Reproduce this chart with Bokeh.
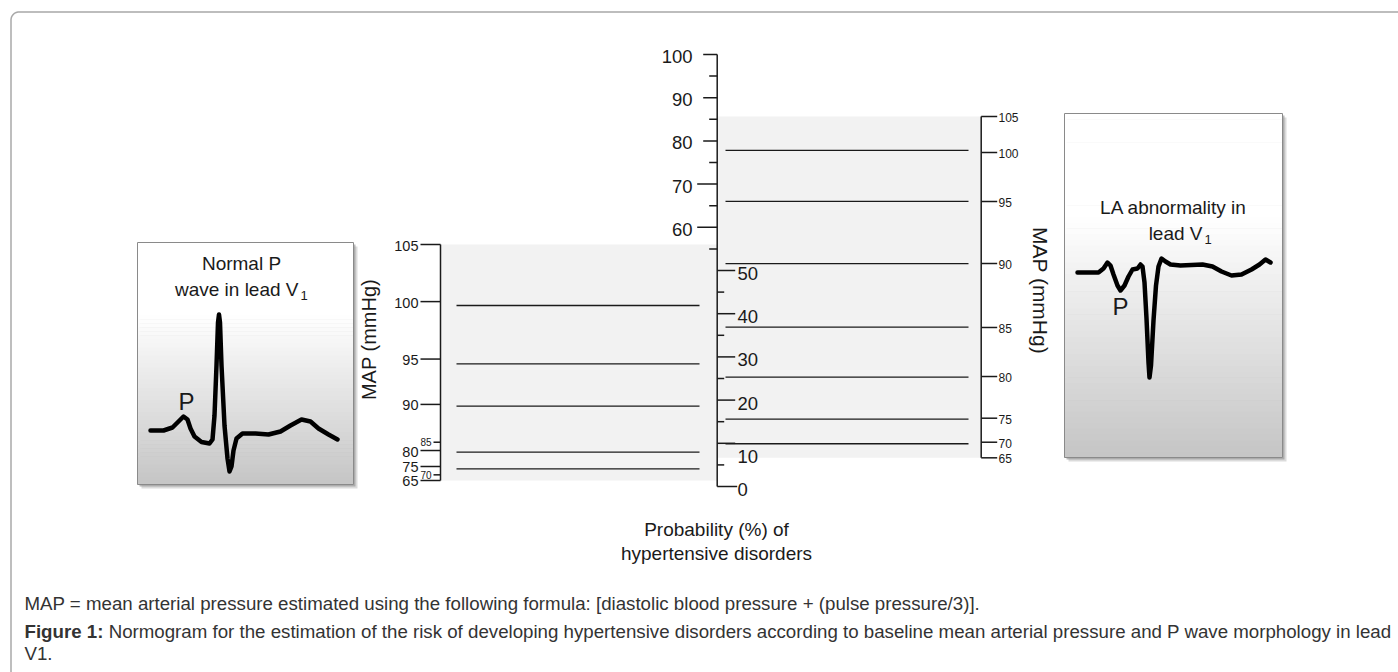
import numpy as np
from bokeh.plotting import figure
from bokeh.models import Range1d
from bokeh.embed import file_html
from bokeh.resources import INLINE
from bokeh.core.properties import value

# ---------------- data ----------------
# central probability scale (%)
prob_major = [0, 10, 20, 30, 40, 50, 60, 70, 80, 90, 100]
prob_minor = [5, 15, 25, 35, 45, 55, 65, 75, 85, 95]

# MAP scales: tick values and their position read on the probability scale (%)
map_ticks = [105, 100, 95, 90, 85, 80, 75, 70, 65]
map_left_pos = [56.0, 42.8, 29.5, 19.0, 10.25, 8.33, 4.63, 2.7, 1.39]
map_right_pos = [85.65, 77.31, 65.97, 51.62, 36.81, 25.46, 15.81, 10.25, 6.64]
map_left_small = [85, 70]

# risk lines: probability (%) for each MAP
normal_map = [100, 95, 90, 80, 75]
normal_prob = [41.9, 28.4, 18.6, 7.96, 4.1]
la_map = [100, 95, 90, 85, 80, 75, 70]
la_prob = [77.8, 66.0, 51.6, 36.9, 25.3, 15.6, 9.9]

# ECG sketches (shape, relative to their box's top-left corner, px)
ecg_normal_dx = [13, 26, 35, 41, 46, 50, 53, 57, 64, 72, 75, 77, 79, 80.5, 81.5, 82.5, 84, 87, 90, 92,
                 94, 96, 99, 105, 118, 131, 143, 153, 164, 173, 181, 191, 200]
ecg_normal_dy = [188, 188, 185, 179, 174, 177, 186, 194, 199.5, 201, 197, 173, 123, 80, 72, 80, 123, 183, 216, 229,
                 224, 208, 196, 191, 191, 192, 189, 183, 177, 179, 186, 192, 197]
ecg_la_dx = [13, 34, 39, 43, 46, 49, 53, 56, 60, 64, 68, 73, 76, 78, 80, 82, 84, 85, 86.5, 89, 91.5, 94, 97,
             101, 106, 116, 138, 148, 157, 167, 177, 187, 195, 201, 206]
ecg_la_dy = [159, 159, 155, 149, 152, 161, 172, 177, 172, 163, 156, 155, 151, 153, 169, 205, 249, 264, 252, 207,
             172, 153, 145, 148, 151, 152, 151, 153, 158, 162, 161, 156, 151, 146, 149]

# ---------------- layout ----------------
W, H = 1398, 672
PAGE = 0
ZERO_Y = 486.0      # page y of 0 %
PX_PER = 4.32       # px per percentage point
FONT = value("Liberation Sans")
INK = "#1a1a1a"

AX_X = 716.7
LAX_X = 440.0
RAX_X = 980.7

p = figure(width=W, height=H, output_backend="svg", toolbar_location=None,
           x_range=Range1d(PAGE, PAGE + W),
           y_range=Range1d((ZERO_Y - (PAGE + H)) / PX_PER, (ZERO_Y - PAGE) / PX_PER),
           x_axis_location=None, y_axis_location=None, min_border=0,
           outline_line_color=None, background_fill_color="white", border_fill_color="white")
p.extra_y_ranges = {"px": Range1d(PAGE + H, PAGE)}
p.grid.visible = False


def txt(x, y, t, size, align="left", baseline="middle", color=INK, angle=0, style="normal",
        px=True, y_offset=0):
    kw = dict(y_range_name="px") if px else {}
    ys = y if isinstance(y, list) else [y]
    n = len(ys)
    xs = x if isinstance(x, list) else [x] * n
    ts = t if isinstance(t, list) else [t] * n
    p.text(x=xs, y=ys, text=ts,
           text_font=FONT, text_font_size=size, text_align=align, text_baseline=baseline,
           text_color=color, angle=angle, text_font_style=style, y_offset=y_offset, **kw)


# outer frame with rounded corner
r = 8
ang = np.linspace(np.pi, 1.5 * np.pi, 14)
fx = [10.5] + list(10.5 + r + r * np.cos(ang)) + [1405]
fy = [700] + list(11.5 + r + r * np.sin(ang)) + [11.5]
p.line(fx, fy, line_color="#a8a8a8", line_width=1.5, y_range_name="px")

# grey panels
p.quad(left=[LAX_X], right=[AX_X], bottom=[min(map_left_pos)], top=[max(map_left_pos)],
       fill_color="#f2f2f2", line_color=None)
p.quad(left=[AX_X], right=[RAX_X], bottom=[min(map_right_pos)], top=[max(map_right_pos)],
       fill_color="#f2f2f2", line_color=None)

# risk lines
p.segment(x0=[456] * len(normal_prob), x1=[699] * len(normal_prob), y0=normal_prob, y1=normal_prob,
          line_color=INK, line_width=1.3)
p.segment(x0=[725] * len(la_prob), x1=[968] * len(la_prob), y0=la_prob, y1=la_prob,
          line_color=INK, line_width=1.3)

# ---- central probability axis ----
p.segment(x0=[AX_X], x1=[AX_X], y0=[min(prob_major)], y1=[max(prob_major)], line_color=INK, line_width=1.5)
up = [v for v in prob_major if v >= 60]
lo = [v for v in prob_major if v <= 50]
p.segment(x0=[AX_X - (14 if v >= 80 else 20) for v in up], x1=[AX_X] * len(up), y0=up, y1=up,
          line_color=INK, line_width=1.5)
p.segment(x0=[AX_X] * len(lo), x1=[AX_X + (20 if v == 0 else 18) for v in lo], y0=lo, y1=lo,
          line_color=INK, line_width=1.5)
mu = [v for v in prob_minor if v >= 55]
ml = [v for v in prob_minor if v < 55]
p.segment(x0=[AX_X - 8] * len(mu), x1=[AX_X] * len(mu), y0=mu, y1=mu, line_color=INK, line_width=1.5)
p.segment(x0=[AX_X] * len(ml), x1=[AX_X + 7] * len(ml), y0=ml, y1=ml, line_color=INK, line_width=1.5)
for v in up:
    txt(692, v, str(v), "18.5px", align="right", px=False, y_offset=2)
for v in lo:
    txt(737, v, str(v), "18.5px", align="left", px=False, y_offset=13 if v == 10 else 3)

# ---- left MAP axis ----
p.segment(x0=[LAX_X], x1=[LAX_X], y0=[min(map_left_pos)], y1=[max(map_left_pos)], line_color=INK, line_width=1.5)
for v, pos in zip(map_ticks, map_left_pos):
    small = v in map_left_small
    p.segment(x0=[LAX_X - (7 if small else 20)], x1=[LAX_X], y0=[pos], y1=[pos], line_color=INK, line_width=1.5)
    if small:
        txt(431, pos, str(v), "10px", align="right", px=False)
    else:
        txt(418, pos, str(v), "14.5px", align="right", px=False, y_offset=1)

# ---- right MAP axis ----
p.segment(x0=[RAX_X], x1=[RAX_X], y0=[min(map_right_pos)], y1=[max(map_right_pos)], line_color=INK, line_width=1.5)
p.segment(x0=[RAX_X] * len(map_ticks), x1=[RAX_X + 16] * len(map_ticks), y0=map_right_pos, y1=map_right_pos,
          line_color=INK, line_width=1.5)
txt(998, list(map_right_pos), [str(v) for v in map_ticks], "12px", align="left", px=False, y_offset=1)

# axis titles
txt(368, 339, "MAP (mmHg)", "20px", align="center", angle=np.pi / 2)
txt(1040, 290, "MAP (mmHg)", "21px", align="center", angle=-np.pi / 2)
txt(716, 529, "Probability (%) of", "19px", align="center")
txt(716, 553, "hypertensive disorders", "19px", align="center")


# ---- ECG boxes ----
def grad_box(left, top, right, bottom):
    n = 60
    edges = np.linspace(top, bottom, n + 1)
    cols = []
    for i in range(n):
        t = (i + 0.5) / n
        g = 255 if t < 0.3 else int(round(255 - 58 * ((t - 0.3) / 0.7)))
        cols.append("#%02x%02x%02x" % (g, g, g))
    p.quad(left=[left + 4], right=[right + 4], top=[top + 4], bottom=[bottom + 4],
           fill_color="#b0b0b0", fill_alpha=0.45, line_color=None, y_range_name="px")
    p.quad(left=[left + 2], right=[right + 2], top=[top + 2], bottom=[bottom + 2],
           fill_color="#8c8c8c", fill_alpha=0.6, line_color=None, y_range_name="px")
    p.quad(left=[left] * n, right=[right] * n, top=list(edges[:-1]), bottom=list(edges[1:] + 0.6),
           fill_color=cols, line_color=None, y_range_name="px")
    p.quad(left=[left], right=[right], top=[top], bottom=[bottom], fill_color=None,
           line_color="#8a8a8a", line_width=1, y_range_name="px")


NB = (137, 242, 353, 484)
LB = (1064, 113, 1282, 457)
grad_box(*NB)
grad_box(*LB)

p.line([NB[0] + v for v in ecg_normal_dx], [NB[1] + v for v in ecg_normal_dy], line_color="black",
       line_width=4.5, line_join="round", line_cap="round", y_range_name="px")
p.line([LB[0] + v for v in ecg_la_dx], [LB[1] + v for v in ecg_la_dy], line_color="black",
       line_width=4.5, line_join="round", line_cap="round", y_range_name="px")

txt(241, 263, "Normal P", "19px", align="center")
txt(298, 289, "wave in lead V", "19px", align="right")
txt(300, 295, "1", "13px", align="left")
txt(186, 401, "P", "24px", align="center")

txt(1173, 207, "LA abnormality in", "19px", align="center")
txt(1202, 233, "lead V", "19px", align="right")
txt(1204, 239, "1", "13px", align="left")
txt(1120, 306, "P", "24px", align="center")

# ---- caption ----
CAP = 18.7
CAPS = "%.1fpx" % CAP
txt(24, 603, "MAP = mean arterial pressure estimated using the following formula: "
             "[diastolic blood pressure + (pulse pressure/3)].", CAPS, color="#333333")
txt(24, 631, "Figure 1:", CAPS, style="bold", color="#333333")
txt(24 + 4.5 * CAP, 631, "Normogram for the estimation of the risk of developing hypertensive disorders "
                         "according to baseline mean arterial pressure and P wave morphology in lead",
    CAPS, color="#333333")
txt(24, 653, "V1.", CAPS, color="#333333")

open("out.html", "w").write(file_html(p, INLINE))
